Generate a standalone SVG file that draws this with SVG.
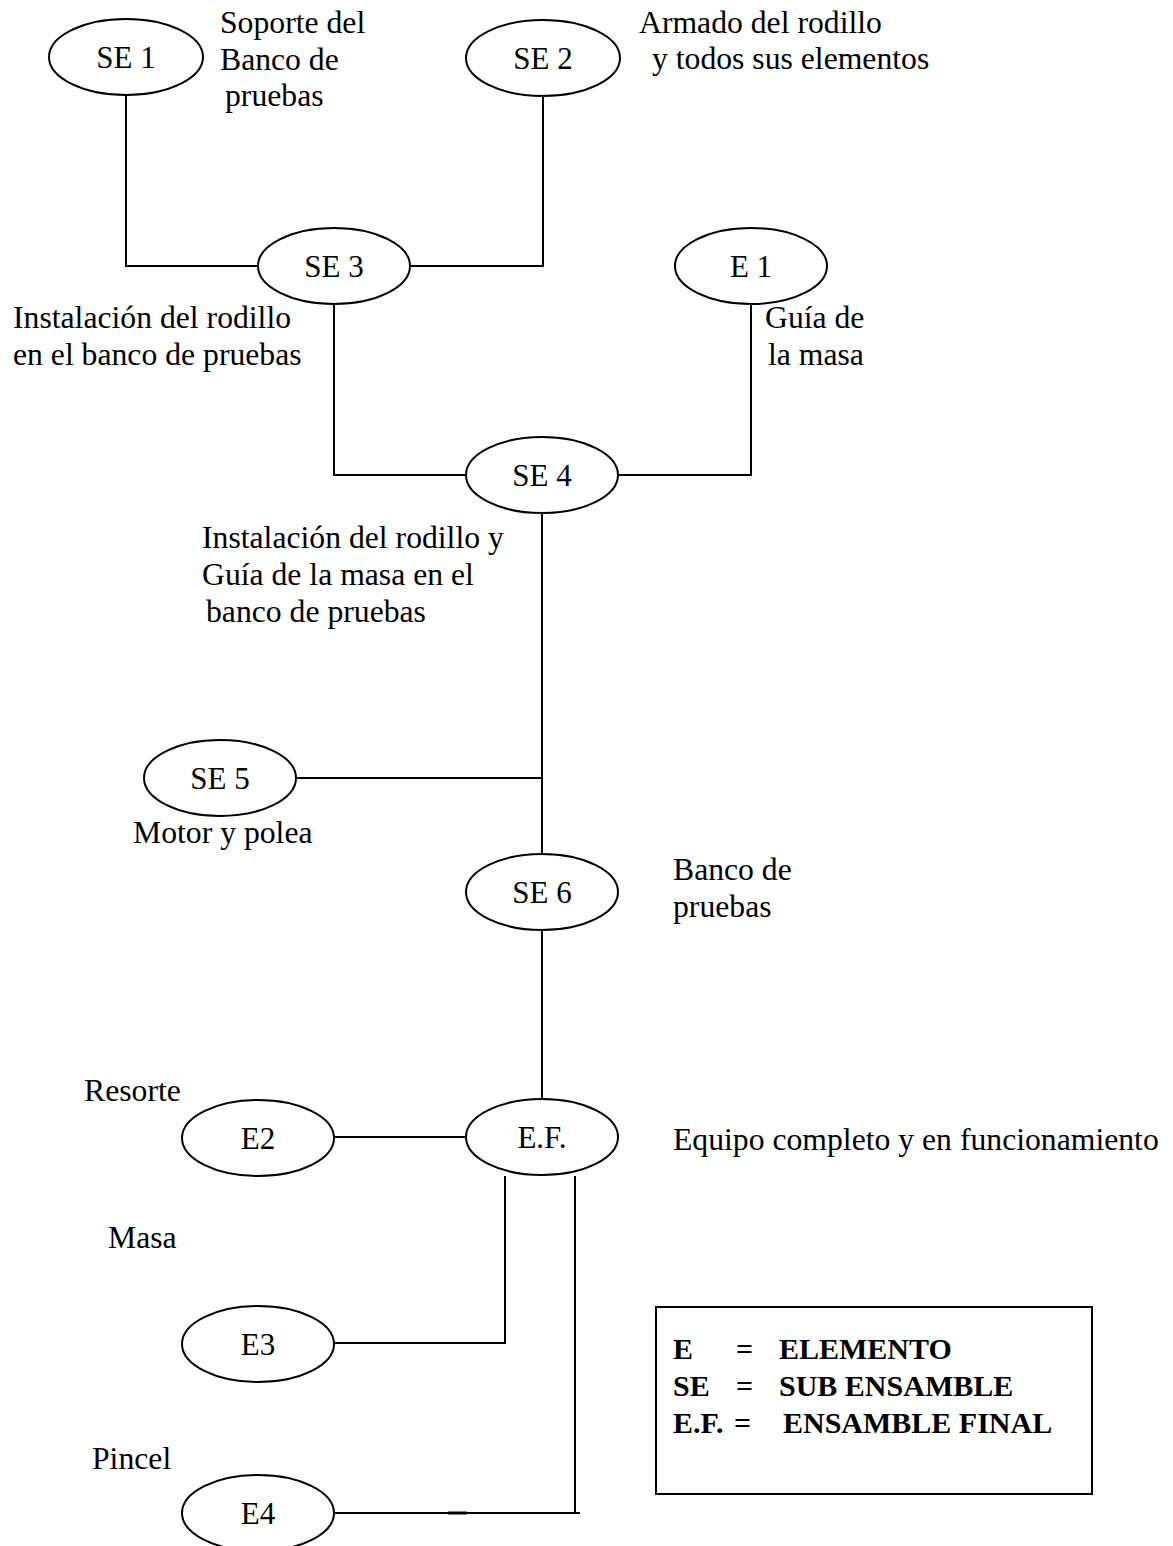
<svg xmlns="http://www.w3.org/2000/svg" width="1173" height="1546" viewBox="0 0 1173 1546">
  <style>
    .node ellipse { fill: #fff; stroke: #000; stroke-width: 2; }
    .node text { font-family: "Liberation Serif", "Times New Roman", serif; font-size: 31px; text-anchor: middle; fill: #000; }
    .lbl { font-family: "Liberation Serif", "Times New Roman", serif; font-size: 31.7px; fill: #000; }
    .conn { fill: none; stroke: #000; stroke-width: 2; }
    .key { font-family: "Liberation Serif", "Times New Roman", serif; font-size: 30px; font-weight: bold; fill: #000; }
  </style>
  <rect width="1173" height="1546" fill="#fff"/>

  <!-- connectors -->
  <g id="connectors" class="conn">
    <path d="M126,95 V266 H258"/>
    <path d="M543,96 V266 H410"/>
    <path d="M334,304 V475 H466"/>
    <path d="M751,304 V475 H618"/>
    <path d="M542,513 V854"/>
    <path d="M296,778 H542"/>
    <path d="M542,930 V1099"/>
    <path d="M334,1137 H466"/>
    <path d="M334,1343 H505 V1176"/>
    <path d="M575,1176 V1513"/>
    <path d="M334,1513 H580"/>
    <path d="M448,1513 H467" stroke-width="3"/>
  </g>

  <!-- nodes -->
  <g id="SE1" class="node"><ellipse cx="126" cy="57" rx="77" ry="38"/><text x="126" y="68">SE 1</text></g>
  <g id="SE2" class="node"><ellipse cx="543" cy="58" rx="77" ry="38"/><text x="543" y="69">SE 2</text></g>
  <g id="SE3" class="node"><ellipse cx="334" cy="266" rx="76" ry="38"/><text x="334" y="277">SE 3</text></g>
  <g id="E1" class="node"><ellipse cx="751" cy="266" rx="76" ry="38"/><text x="751" y="277">E 1</text></g>
  <g id="SE4" class="node"><ellipse cx="542" cy="475" rx="76" ry="38"/><text x="542" y="486">SE 4</text></g>
  <g id="SE5" class="node"><ellipse cx="220" cy="778" rx="76" ry="38"/><text x="220" y="789">SE 5</text></g>
  <g id="SE6" class="node"><ellipse cx="542" cy="892" rx="76" ry="38"/><text x="542" y="903">SE 6</text></g>
  <g id="EF" class="node"><ellipse cx="542" cy="1137" rx="76" ry="38"/><text x="542" y="1148">E.F.</text></g>
  <g id="E2" class="node"><ellipse cx="258" cy="1138" rx="76" ry="38"/><text x="258" y="1149">E2</text></g>
  <g id="E3" class="node"><ellipse cx="258" cy="1344" rx="76" ry="38"/><text x="258" y="1355">E3</text></g>
  <g id="E4" class="node"><ellipse cx="258" cy="1513" rx="76" ry="38"/><text x="258" y="1524">E4</text></g>

  <!-- descriptions -->
  <g id="labels" class="lbl">
    <text x="220" y="33">Soporte del</text>
    <text x="220" y="70">Banco de</text>
    <text x="225" y="106">pruebas</text>
    <text x="639" y="33">Armado del rodillo</text>
    <text x="652" y="69">y todos sus elementos</text>
    <text x="13" y="328">Instalación del rodillo</text>
    <text x="13" y="365">en el banco de pruebas</text>
    <text x="765" y="328">Guía de</text>
    <text x="768" y="365">la masa</text>
    <text x="202" y="548">Instalación del rodillo y</text>
    <text x="202" y="585">Guía de la masa en el</text>
    <text x="206" y="622">banco de pruebas</text>
    <text x="133" y="843">Motor y polea</text>
    <text x="673" y="880">Banco de</text>
    <text x="673" y="917">pruebas</text>
    <text x="84" y="1101">Resorte</text>
    <text x="673" y="1150">Equipo completo y en funcionamiento</text>
    <text x="108" y="1248">Masa</text>
    <text x="92" y="1469">Pincel</text>
  </g>

  <!-- key -->
  <g id="legend">
    <rect x="656" y="1307" width="436" height="187" fill="none" stroke="#000" stroke-width="2"/>
    <text class="key" x="673" y="1359">E</text>
    <text class="key" x="736" y="1359">=</text>
    <text class="key" x="779" y="1359">ELEMENTO</text>
    <text class="key" x="673" y="1396">SE</text>
    <text class="key" x="736" y="1396">=</text>
    <text class="key" x="779" y="1396">SUB ENSAMBLE</text>
    <text class="key" x="673" y="1433">E.F.</text>
    <text class="key" x="734" y="1433">=</text>
    <text class="key" x="783" y="1433">ENSAMBLE FINAL</text>
  </g>
</svg>
